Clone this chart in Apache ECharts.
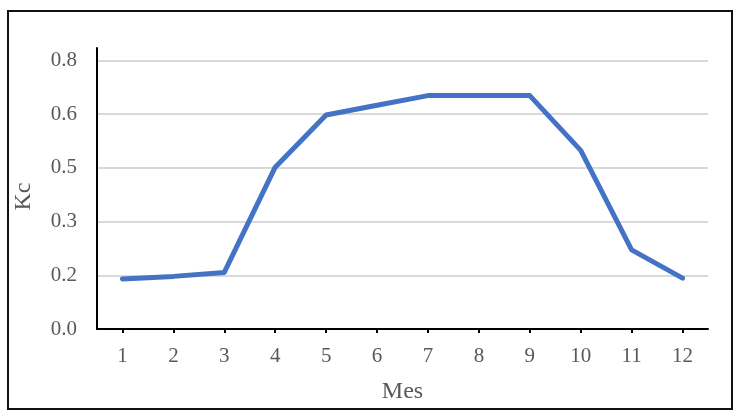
<!DOCTYPE html>
<html>
<head>
<meta charset="utf-8">
<script src="https://cdn.jsdelivr.net/npm/echarts@6/dist/echarts.min.js"></script>
<style>
  html, body { margin: 0; padding: 0; background: #fff; }
  #wrap { position: relative; width: 740px; height: 416px; }
  #chart { position: absolute; left: 0; top: 0; width: 740px; height: 416px; }
  #frame { position: absolute; left: 7px; top: 10px; width: 726px; height: 400px; border: 2px solid #111; box-sizing: border-box; pointer-events: none; }
</style>
</head>
<body>
<div id="wrap">
  <div id="chart"></div>
  <div id="frame"></div>
</div>
<script>
const months = ['1','2','3','4','5','6','7','8','9','10','11','12'];
const kcValues = [0.14, 0.147, 0.158, 0.452, 0.598, 0.625, 0.652, 0.652, 0.652, 0.499, 0.221, 0.142];
const yTickLabels = ['0.0','0.2','0.3','0.5','0.6','0.8'];
const yInterval = 0.15;

const chart = echarts.init(document.getElementById('chart'), null, { renderer: 'canvas' });
const textColor = '#595959';
const font = 'Liberation Serif';

chart.setOption({
  animation: false,
  grid: { left: 97, right: 32, top: 48, bottom: 87, containLabel: false, outerBoundsMode: 'none' },
  xAxis: {
    type: 'category',
    data: months,
    boundaryGap: true,
    name: 'Mes',
    nameLocation: 'middle',
    nameGap: 51,
    nameTextStyle: { color: textColor, fontFamily: font, fontSize: 24 },
    axisLine: { show: true, lineStyle: { color: '#000', width: 2 } },
    axisTick: { show: true, alignWithLabel: true, length: 4, lineStyle: { color: '#000', width: 2 } },
    axisLabel: { color: textColor, fontFamily: font, fontSize: 21, margin: 17 },
    splitLine: { show: false }
  },
  yAxis: {
    type: 'value',
    min: 0,
    max: 0.785,
    interval: yInterval,
    name: 'Kc',
    nameLocation: 'middle',
    nameGap: 61,
    nameRotate: 90,
    nameTextStyle: { color: textColor, fontFamily: font, fontSize: 24, padding: [0, 16, 0, 0] },
    axisLine: { show: true, lineStyle: { color: '#000', width: 2 } },
    axisTick: { show: false },
    axisLabel: {
      color: textColor, fontFamily: font, fontSize: 21, margin: 20,
      showMaxLabel: false,
      formatter: function (v) {
        const i = Math.round(v / yInterval);
        return yTickLabels[i] !== undefined ? yTickLabels[i] : '';
      }
    },
    splitLine: { show: true, showMaxLine: false, lineStyle: { color: '#D9D9D9', width: 2 } }
  },
  series: [{
    type: 'line',
    data: kcValues,
    symbol: 'none',
    lineStyle: { color: '#4472C4', width: 5, join: 'round', cap: 'round' }
  }]
});
</script>
</body>
</html>
